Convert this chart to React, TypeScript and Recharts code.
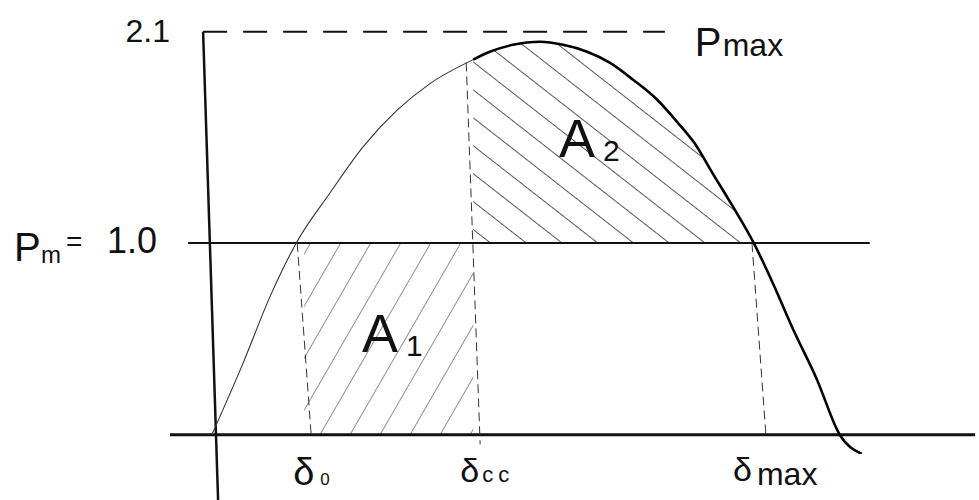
import React from 'react';
import {
  ComposedChart,
  Line,
  Area,
  XAxis,
  YAxis,
  ReferenceLine,
  ReferenceArea,
  ReferenceDot,
  Label,
} from 'recharts';

// rotor angle (deg) and electrical power (p.u.)
const delta = [0, 9, 16.7, 24.4, 33.9, 43.4, 53.1, 62.6, 75, 79.8, 86.4, 94.2, 100.8, 107.7, 114.3, 120.9, 127.8, 133.5, 138.5, 143.8, 149.5, 155.5, 161, 166.8, 173.6, 180.2, 186.5];
const power = [0, 0.375, 0.72, 1.005, 1.26, 1.5, 1.69, 1.83, 1.955, 1.996, 2.032, 2.048, 2.032, 1.996, 1.938, 1.85, 1.746, 1.631, 1.52, 1.36, 1.19, 1.0, 0.79, 0.55, 0.29, 0.0, -0.1];

const PM = 1.0;
const PMAX = 2.1;
const DELTA_0 = 26.5;
const DELTA_CC = 75;
const DELTA_MAX = 157;
const DELTA_CROSS = 155.5;

const powerTicks = [PM, PMAX];
const angleTicks = [DELTA_0, DELTA_CC, DELTA_MAX];
const angleSubs = ['0', 'cc', 'max'];

const INK = '#111';
const FONT = '"Liberation Sans", Arial, sans-serif';

const data = delta.map((d, i) => ({
  delta: d,
  low: d <= DELTA_CC ? power[i] : null,
  high: d >= DELTA_CC ? power[i] : null,
  a2: d >= DELTA_CC && d <= DELTA_CROSS ? [PM, power[i]] : null,
}));

const PowerTick = ({ x, y, payload }: any) => {
  const v = payload.value;
  if (v === PMAX) {
    return (
      <text x={x} y={y + 10} textAnchor="end" fontSize={32} fill={INK} fontFamily={FONT}>
        {v.toFixed(1)}
      </text>
    );
  }
  return (
    <g fill={INK} fontFamily={FONT}>
      <text x={x - 156} y={y + 18} fontSize={40}>P</text>
      <text x={x - 129} y={y + 20} fontSize={24}>m</text>
      <text x={x - 104} y={y + 8} fontSize={28}>=</text>
      <text x={x - 13} y={y + 10} fontSize={36} textAnchor="end">{v.toFixed(1)}</text>
    </g>
  );
};

const tickShift = [-11, -13, -26];

const AngleTick = ({ x, y, payload, index }: any) => {
  const i = angleTicks.indexOf(payload.value);
  const k = i < 0 ? index : i;
  const sub = angleSubs[k];
  const x0 = x + tickShift[k];
  if (k === 0) {
    return (
      <g fill={INK} fontFamily={FONT}>
        <text x={x0} y={y + 31} fontSize={38}>δ</text>
        <text x={x0 + 27} y={y + 31} fontSize={17}>{sub}</text>
      </g>
    );
  }
  if (k === 1) {
    return (
      <g fill={INK} fontFamily={FONT}>
        <text x={x0} y={y + 28} fontSize={34}>δ</text>
        <text x={x0 + 22} y={y + 28} fontSize={22} letterSpacing={5}>{sub}</text>
      </g>
    );
  }
  return (
    <g fill={INK} fontFamily={FONT}>
      <text x={x0} y={y + 27} fontSize={34}>δ</text>
      <text x={x0 + 24} y={y + 31} fontSize={32}>{sub}</text>
    </g>
  );
};

const areaLabel = (main: string, sub: string) => (props: any) => {
  const { x, y } = props.viewBox;
  return (
    <g fill={INK} fontFamily={FONT}>
      <text x={x} y={y} fontSize={54}>{main}</text>
      <text x={x + 44} y={y + 4} fontSize={30}>{sub}</text>
    </g>
  );
};

const pmaxLabel = (props: any) => {
  const { x, y } = props.viewBox;
  return (
    <g fill={INK} fontFamily={FONT}>
      <text x={x - 4} y={y} fontSize={40}>P</text>
      <text x={x + 24} y={y} fontSize={32}>max</text>
    </g>
  );
};

export default function App() {
  return (
    <div style={{ position: 'absolute', left: 0, top: 0, width: 979, height: 500, background: '#fff' }}>
      <ComposedChart width={979} height={500} data={data} margin={{ top: 3, right: 4, bottom: 0, left: 0 }}>
        <defs>
          <pattern id="hatchA1" width="26" height="26" patternUnits="userSpaceOnUse" patternTransform="rotate(30)">
            <line x1="0" y1="0" x2="0" y2="26" stroke="#222" strokeWidth="1" />
          </pattern>
          <pattern id="hatchA2" width="22" height="22" patternUnits="userSpaceOnUse" patternTransform="rotate(-52)">
            <line x1="0" y1="0" x2="0" y2="22" stroke="#111" strokeWidth="1.4" />
          </pattern>
        </defs>
        <XAxis
          dataKey="delta"
          type="number"
          domain={[-12, 219]}
          allowDataOverflow
          ticks={angleTicks}
          tick={<AngleTick />}
          axisLine={false}
          tickLine={false}
          tickSize={0}
          tickMargin={0}
          height={46}
        />
        <YAxis
          type="number"
          domain={[-0.1, 2.25]}
          allowDataOverflow
          ticks={powerTicks}
          tick={<PowerTick />}
          axisLine={false}
          tickLine={false}
          tickSize={0}
          tickMargin={0}
          width={170}
        />

        <ReferenceArea x1={DELTA_0} x2={DELTA_CC} y1={0} y2={PM} fill="url(#hatchA1)" fillOpacity={1} stroke="none" />
        <Area
          dataKey="a2"
          type="monotone"
          fill="url(#hatchA2)"
          fillOpacity={1}
          stroke="none"
          isAnimationActive={false}
        />

        {/* axes */}
        <ReferenceLine y={0} stroke={INK} strokeWidth={3} />
        <ReferenceLine
          segment={[{ x: -2.5, y: PMAX }, { x: 1.8, y: -0.34 }]}
          stroke={INK}
          strokeWidth={2.5}
          ifOverflow="visible"
        />
        <ReferenceLine segment={[{ x: -6.8, y: PM }, { x: 188.8, y: PM }]} stroke={INK} strokeWidth={2} />
        <ReferenceLine
          segment={[{ x: -2.5, y: PMAX }, { x: 130, y: PMAX }]}
          stroke={INK}
          strokeWidth={2}
          strokeDasharray="24 16"
        />

        {/* angle markers */}
        <ReferenceLine
          segment={[{ x: DELTA_0 - 2, y: PM }, { x: DELTA_0 + 2, y: 0 }]}
          stroke="#333"
          strokeWidth={1}
          strokeDasharray="9 5"
        />
        <ReferenceLine
          segment={[{ x: DELTA_CC - 2, y: 1.94 }, { x: DELTA_CC + 2, y: -0.05 }]}
          stroke="#333"
          strokeWidth={1}
          strokeDasharray="9 5"
        />
        <ReferenceLine
          segment={[{ x: DELTA_MAX - 2, y: PM }, { x: DELTA_MAX + 2, y: 0 }]}
          stroke="#333"
          strokeWidth={1}
          strokeDasharray="9 5"
        />

        <Line dataKey="low" type="monotone" stroke="#333" strokeWidth={1.1} dot={false} isAnimationActive={false} />
        <Line dataKey="high" type="monotone" stroke="#000" strokeWidth={2.6} dot={false} isAnimationActive={false} />

        <ReferenceDot x={43.4} y={0.427} r={1} fill="none" stroke="none">
          <Label content={areaLabel('A', '1')} />
        </ReferenceDot>
        <ReferenceDot x={99.9} y={1.443} r={1} fill="none" stroke="none">
          <Label content={areaLabel('A', '2')} />
        </ReferenceDot>
        <ReferenceDot x={140} y={1.97} r={1} fill="none" stroke="none">
          <Label content={pmaxLabel} />
        </ReferenceDot>
      </ComposedChart>
    </div>
  );
}
